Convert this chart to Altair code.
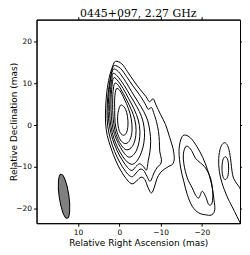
import altair as alt
import pandas as pd

TITLE = "0445+097, 2.27 GHz"
X_TITLE = "Relative Right Ascension (mas)"
Y_TITLE = "Relative Declination (mas)"
X_TICKS = [10, 0, -10, -20]
Y_TICKS = [20, 10, 0, -10, -20]
X_DOMAIN = [-29.2, 20]
Y_DOMAIN = [-23.55, 25.3]

# contour lines (RA mas, Dec mas)
C1 = [(0.9, 15.3), (-0.6, 14.7), (-2.0, 12.8), (-3.5, 10.6), (-5.0, 8.6), (-6.4, 6.9),
      (-7.3, 5.6), (-8.2, 6.3), (-8.9, 4.8), (-10.0, 2.5), (-11.2, 0.1), (-12.2, -3.0),
      (-13.0, -5.6), (-13.3, -8.0), (-12.9, -9.4), (-12.0, -9.9), (-10.9, -10.6),
      (-9.9, -11.5), (-9.1, -12.9), (-8.5, -14.9), (-7.8, -16.3), (-7.0, -15.1),
      (-6.2, -13.1), (-5.3, -12.5), (-4.3, -13.3), (-3.3, -14.1), (-2.4, -13.7),
      (-1.4, -12.5), (-0.3, -10.8), (0.9, -8.4), (2.0, -5.5), (2.9, -2.5), (3.3, 0.5),
      (3.3, 4.0), (3.0, 8.0), (2.4, 11.5), (1.6, 14.1)]
C2 = [(1.2, 14.3), (-0.3, 13.6), (-1.8, 11.6), (-3.3, 9.4), (-4.8, 7.4), (-6.2, 5.2),
      (-7.0, 3.8), (-7.8, 4.2), (-8.3, 3.0), (-9.0, 0.8), (-9.5, -1.6), (-9.7, -4.0),
      (-9.8, -6.4), (-10.2, -8.2), (-10.0, -9.4), (-9.2, -10.1), (-8.4, -11.5),
      (-7.5, -13.5), (-6.7, -12.3), (-5.9, -10.9), (-5.0, -10.6), (-4.1, -11.5),
      (-3.2, -12.4), (-2.3, -12.0), (-1.3, -10.8), (-0.1, -8.9), (1.1, -6.4),
      (2.1, -3.5), (2.8, -0.2), (2.95, 3.5), (2.7, 7.5), (2.2, 11.0), (1.7, 13.3)]
C3 = [(1.4, 13.4), (0.2, 12.8), (-1.5, 10.5), (-3.0, 8.0), (-4.5, 5.6), (-5.9, 3.3),
      (-6.9, 1.0), (-7.4, -1.5), (-7.6, -4.0), (-7.4, -6.5), (-7.0, -8.6), (-6.6, -10.8),
      (-5.8, -9.9), (-4.9, -9.3), (-4.0, -10.0), (-3.1, -10.9), (-2.2, -10.4),
      (-1.2, -9.1), (0.0, -7.2), (1.1, -4.8), (2.0, -2.0), (2.6, 1.5), (2.65, 5.0),
      (2.4, 8.5), (2.0, 11.5)]
C4 = [(1.5, 12.4), (0.5, 11.8), (-1.2, 9.5), (-2.7, 7.0), (-4.2, 4.5), (-5.4, 2.0),
      (-6.0, -0.5), (-6.1, -3.0), (-5.7, -5.5), (-5.0, -7.4), (-4.2, -8.7), (-3.3, -9.4),
      (-2.4, -9.2), (-1.4, -8.3), (-0.3, -6.7), (0.8, -4.5), (1.7, -1.8), (2.25, 1.5),
      (2.3, 5.0), (2.1, 8.5), (1.8, 11.0)]
C5 = [(1.4, 11.3), (0.5, 10.8), (-0.9, 8.8), (-2.3, 6.3), (-3.6, 3.8), (-4.6, 1.2),
      (-5.0, -1.5), (-4.8, -4.0), (-4.2, -6.0), (-3.3, -7.3), (-2.3, -7.7), (-1.3, -6.9),
      (-0.3, -5.4), (0.7, -3.4), (1.5, -1.0), (1.9, 2.0), (2.0, 5.5), (1.8, 9.0)]
C6 = [(1.1, 10.0), (0.2, 9.5), (-1.0, 7.5), (-2.3, 5.0), (-3.4, 2.5), (-4.0, 0.0),
      (-4.0, -2.5), (-3.5, -4.5), (-2.6, -5.7), (-1.6, -5.9), (-0.6, -5.0), (0.4, -3.2),
      (1.1, -1.0), (1.5, 2.0), (1.6, 5.0), (1.5, 8.0)]
C7 = [(0.7, 8.7), (-0.2, 8.2), (-1.2, 6.3), (-2.2, 4.0), (-2.9, 1.5), (-3.1, -1.0),
      (-2.8, -3.0), (-2.1, -4.2), (-1.2, -4.4), (-0.3, -3.6), (0.5, -1.8), (1.0, 0.5),
      (1.1, 3.5), (1.1, 6.5)]
C8 = [(-0.4, 4.8), (-1.2, 4.3), (-1.8, 3.0), (-2.1, 1.0), (-2.0, -1.0), (-1.5, -2.2),
      (-0.8, -2.4), (-0.1, -1.6), (0.3, 0.0), (0.4, 2.0), (0.1, 3.8)]
W1 = [(-15.7, -2.4), (-14.85, -3.6), (-14.45, -6.4), (-14.85, -10.3), (-15.6, -13.5),
      (-16.45, -16.7), (-17.65, -19.5), (-19.25, -21.1), (-21.25, -21.6), (-22.45, -21.5),
      (-23.1, -20.3), (-22.9, -17.9), (-22.3, -14.1), (-21.3, -10.6), (-20.2, -7.8),
      (-18.8, -5.2), (-17.25, -3.1)]
W2 = [(-16.05, -5.2), (-15.5, -7.0), (-15.65, -9.5), (-16.45, -12.7), (-17.65, -15.1),
      (-18.5, -16.9), (-19.25, -17.5), (-20.05, -15.9), (-20.9, -17.2), (-21.65, -19.1),
      (-22.45, -18.7), (-22.6, -15.9), (-22.05, -12.7), (-20.85, -10.3), (-19.65, -9.1),
      (-18.45, -8.0), (-17.65, -6.4), (-16.8, -5.3)]
FW2 = [(-25.65, -7.6), (-26.25, -8.4), (-26.45, -10.35), (-26.25, -12.3), (-25.65, -13.1),
       (-25.05, -12.3), (-24.85, -10.35), (-25.05, -8.4)]
# the outer far-west contour runs out of the map; it closes outside the frame
FW1 = [(-29.6, -15.6), (-28.9, -14.7), (-28.05, -13.5), (-27.4, -11.9), (-26.9, -8.0),
       (-26.45, -5.6), (-25.9, -4.5), (-25.25, -4.3), (-24.5, -5.4), (-24.05, -8.0),
       (-24.2, -11.1), (-24.85, -13.9), (-26.05, -17.1), (-27.25, -19.5), (-28.45, -21.9),
       (-29.3, -23.6), (-29.9, -24.8), (-32.0, -26.0), (-33.0, -21.0), (-32.0, -16.0)]

CONTOURS = {"C1": C1, "C2": C2, "C3": C3, "C4": C4, "C5": C5, "C6": C6, "C7": C7,
            "C8": C8, "W1": W1, "W2": W2, "FW1": FW1, "FW2": FW2}

BEAM_RA = [13.35]
BEAM_DEC = [-17.1]

rows = []
for name, pts in CONTOURS.items():
    for i, (ra, dec) in enumerate(pts):
        rows.append({"c": name, "i": i, "ra": ra, "dec": dec})
contour_df = pd.DataFrame(rows)
beam_df = pd.DataFrame({"ra": BEAM_RA, "dec": BEAM_DEC})

W = 204.6
H = 204.7

xs = alt.Scale(domain=X_DOMAIN, reverse=True, nice=False, zero=False)
ys = alt.Scale(domain=Y_DOMAIN, nice=False, zero=False)

contours = alt.Chart(contour_df).mark_line(
    interpolate="cardinal-closed", color="black", strokeWidth=1, clip=True
).encode(
    x=alt.X("ra:Q", scale=xs, axis=alt.Axis(values=X_TICKS, title=X_TITLE, orient="bottom",
                                            titlePadding=3)),
    y=alt.Y("dec:Q", scale=ys, axis=alt.Axis(values=Y_TICKS, title=Y_TITLE, orient="left",
                                             titleX=-18, titleY=H / 2)),
    detail="c:N", order="i:Q",
)

ELLIPSE = "M0,-1 A0.22,1 0 1,1 0,1 A0.22,1 0 1,1 0,-1 Z"
beam = alt.Chart(beam_df).mark_point(
    shape=ELLIPSE, size=2000, filled=True, fill="#808080", stroke="black",
    strokeWidth=1, opacity=1, angle=352
).encode(
    x=alt.X("ra:Q", scale=xs, axis=alt.Axis(values=X_TICKS, orient="top", labels=False, title=None)),
    y=alt.Y("dec:Q", scale=ys, axis=alt.Axis(values=Y_TICKS, orient="right", labels=False, title=None)),
)

chart = alt.layer(contours, beam).resolve_axis(
    x="independent", y="independent"
).properties(
    width=W, height=H,
    autosize=alt.AutoSizeParams(type="none"),
    padding={"left": 28.7, "top": 11, "right": 2, "bottom": 28},
    title=alt.TitleParams(TITLE, font="DejaVu Serif", fontSize=11, fontWeight="normal",
                          frame="group", anchor="middle", offset=0, dy=11.8,
                          baseline="alphabetic", color="black"),
).configure_view(
    stroke="black", strokeWidth=1
).configure_axis(
    grid=False, domainColor="black", tickColor="black", tickSize=3, labelColor="black",
    labelFont="DejaVu Sans", labelFontSize=7.5, labelPadding=2,
    titleFont="DejaVu Sans", titleFontSize=9, titleFontWeight="normal", titleColor="black",
    titlePadding=2,
)

chart.save("out.html", embed_options={"renderer": "svg", "actions": False})
